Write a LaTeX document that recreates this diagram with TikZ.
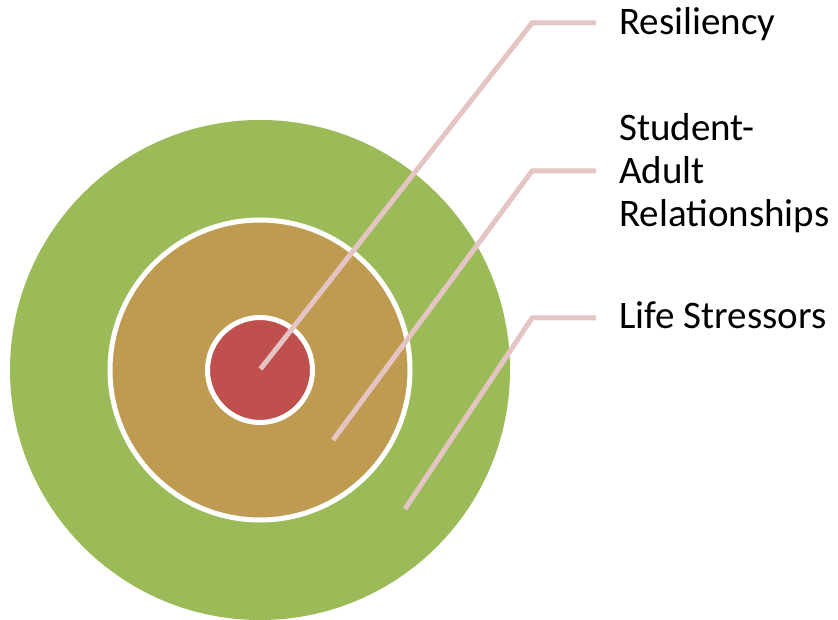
\documentclass[tikz,border=0pt]{standalone}
\usepackage{fontspec}
\setmainfont{Carlito}
\definecolor{ringgreen}{RGB}{155,187,89}
\definecolor{ringtan}{RGB}{191,155,82}
\definecolor{ringred}{RGB}{192,80,77}
\definecolor{leader}{RGB}{229,196,196}
\begin{document}
\begin{tikzpicture}[x=1pt,y=-1pt,
  ring/.style={circle,draw=white,line width=5pt,inner sep=0pt},
  leaderline/.style={draw=leader,line width=5pt},
  label/.style={inner sep=0pt,font=\fontsize{39}{43}\selectfont,align=left}]
  \useasboundingbox (0,0) rectangle (838,620);
  % concentric rings
  \node[circle,fill=ringgreen,inner sep=0pt,minimum size=500pt] (outer) at (260,370) {};
  \node[ring,fill=ringtan,minimum size=300pt] (middle) at (260,370) {};
  \node[ring,fill=ringred,minimum size=105pt] (inner) at (260,370) {};
  % leader line points
  \coordinate (s1) at (260.5,369);
  \coordinate (k1) at (532,23);
  \coordinate (e1) at (596,23);
  \coordinate (s2) at (333,440);
  \coordinate (k2) at (532,171);
  \coordinate (e2) at (596,171);
  \coordinate (s3) at (405,509);
  \coordinate (k3) at (532,318);
  \coordinate (e3) at (596,318);
  \draw[leaderline] (s1) -- (k1) -- (e1);
  \draw[leaderline] (s2) -- (k2) -- (e2);
  \draw[leaderline] (s3) -- (k3) -- (e3);
  % labels
  \node[label,anchor=base west] (t1) at (619,35) {Resiliency};
  \node[label,anchor=west] (t2) at (619,173) {Student-\\Adult\\Relationships};
  \node[label,anchor=base west] (t3) at (619,329) {Life Stressors};
\end{tikzpicture}
\end{document}
